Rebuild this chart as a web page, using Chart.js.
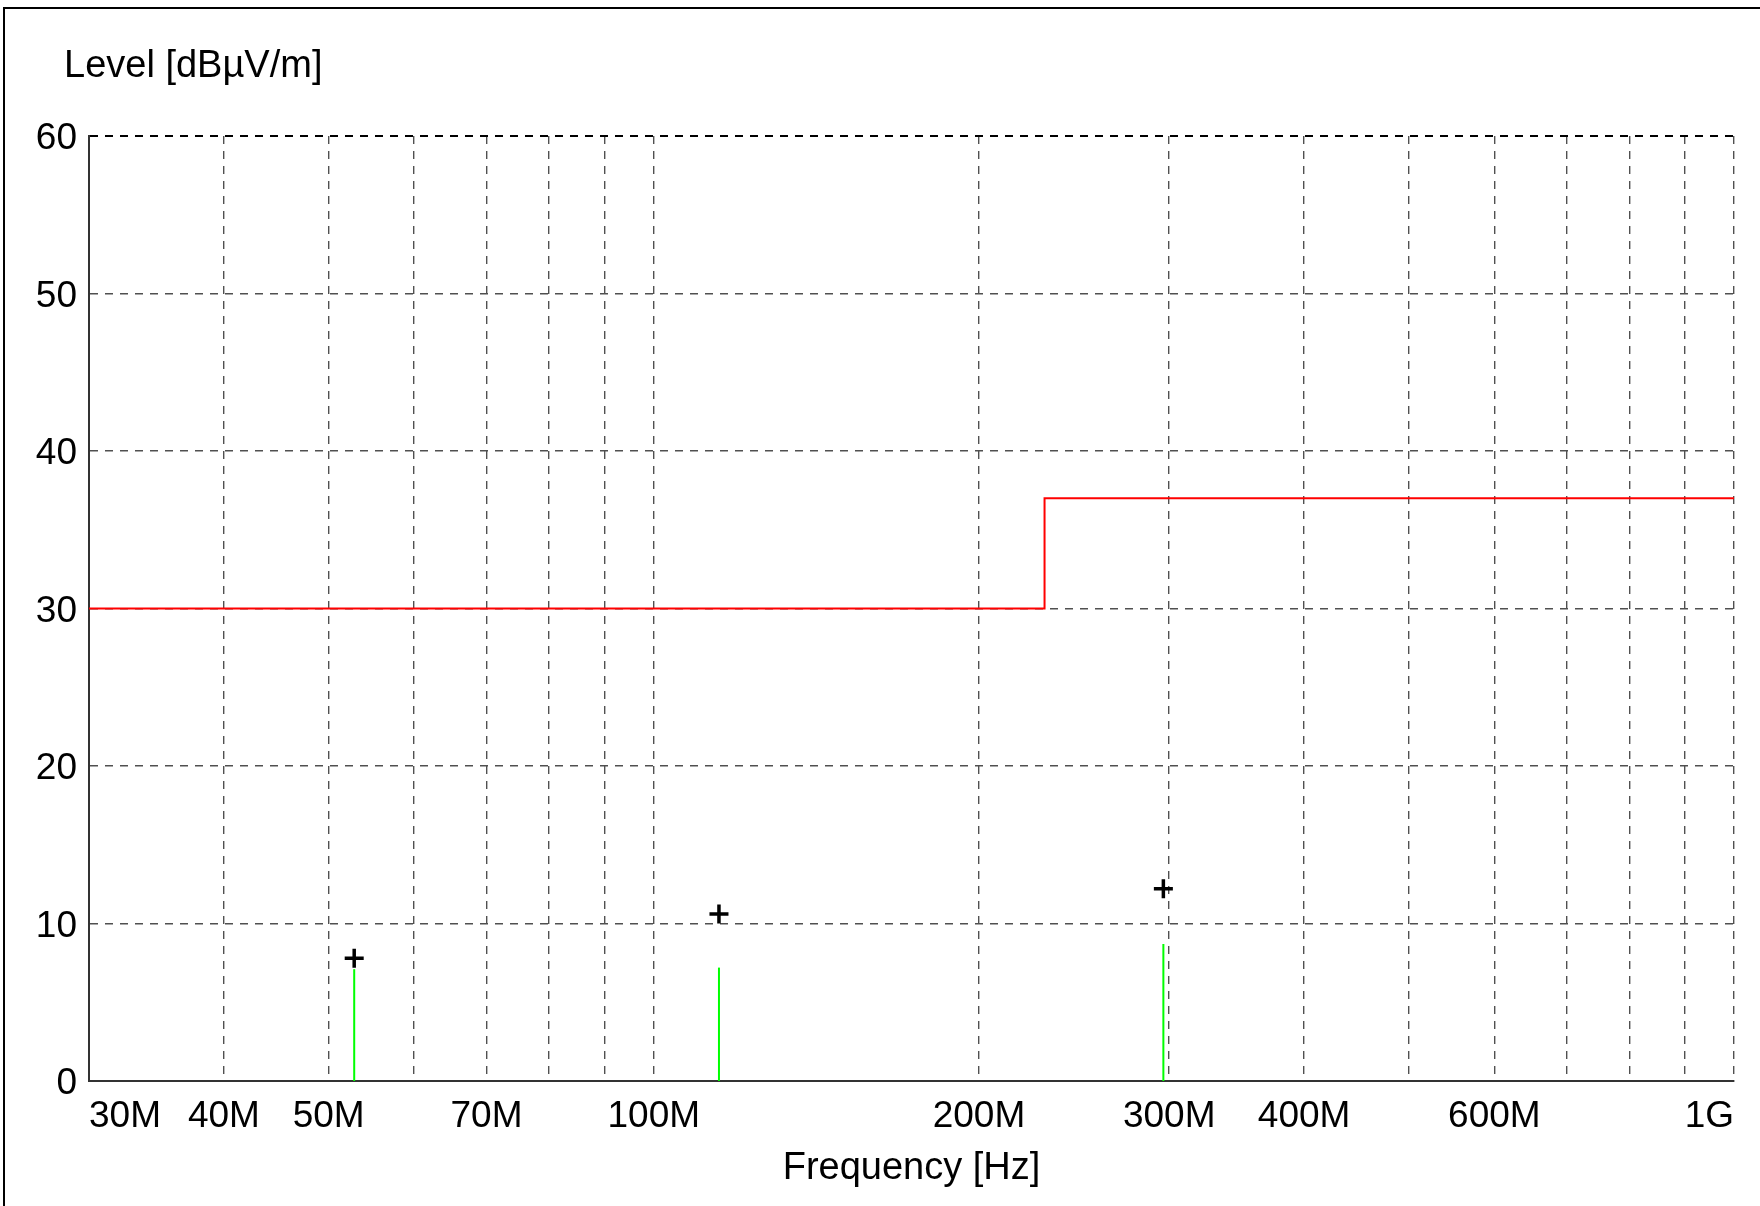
<!DOCTYPE html>
<html>
<head>
<meta charset="utf-8">
<script src="https://cdn.jsdelivr.net/npm/chart.js@4.4.1/dist/chart.umd.min.js"></script>
<style>
html,body{margin:0;padding:0;background:#fff;overflow:hidden;width:1760px;height:1206px}
canvas{position:absolute;left:0;top:0}
#frame{position:absolute;left:3px;top:7px;width:1800px;height:1300px;border-top:2px solid #000;border-left:2px solid #000;pointer-events:none}
</style>
</head>
<body>
<canvas id="c" width="1760" height="1206"></canvas>
<div id="frame"></div>
<script>
// ---- data (frequencies in MHz, levels in dBµV/m) ----
const xTickValues = [30, 40, 50, 60, 70, 80, 90, 100, 200, 300, 400, 500, 600, 700, 800, 900, 1000];
const xTickLabels = ['30M', '40M', '50M', '', '70M', '', '', '100M', '200M', '300M', '400M', '', '600M', '', '', '', '1G'];
const yTickValues = [0, 10, 20, 30, 40, 50, 60];
const limitFreqs = [30, 230, 230, 1000];
const limitLevels = [30, 30, 37, 37];
const peakFreqs = [52.8, 114.9, 296.3];
const peakLevels = [7.1, 7.2, 8.7];
const markerFreqs = [52.8, 114.9, 296.3];
const markerLevels = [7.8, 10.6, 12.2];
const xTitleText = 'Frequency [Hz]';
const yTitleText = 'Level [dBµV/m]';

const FONT = "'Liberation Sans', Arial, sans-serif";
Chart.defaults.font.family = FONT;
Chart.defaults.color = '#000';

const datasets = [];
datasets.push({
  label: 'Limit',
  data: limitFreqs.map((f, i) => ({x: f, y: limitLevels[i]})),
  showLine: true, borderColor: '#ff0000', borderWidth: 2, pointRadius: 0, fill: false, order: 3
});
peakFreqs.forEach((f, i) => datasets.push({
  label: 'Peak ' + (i + 1),
  data: [{x: f, y: 0}, {x: f, y: peakLevels[i]}],
  showLine: true, borderColor: '#00ff00', borderWidth: 2, pointRadius: 0, fill: false, order: 2
}));
datasets.push({
  label: 'QP',
  data: markerFreqs.map((f, i) => ({x: f, y: markerLevels[i]})),
  showLine: false, pointStyle: 'cross', pointRadius: 9.5, pointBorderWidth: 3.5,
  pointBorderColor: '#000', borderColor: '#000', backgroundColor: '#000', order: 1
});

const yTitlePlugin = {
  id: 'yTitle',
  afterDraw(chart) {
    const {ctx, chartArea} = chart;
    ctx.save();
    ctx.font = '38px ' + FONT;
    ctx.fillStyle = '#000';
    ctx.textAlign = 'left';
    ctx.textBaseline = 'alphabetic';
    ctx.fillText(yTitleText, chartArea.left - 25, chartArea.top - 59);
    ctx.restore();
  }
};

new Chart(document.getElementById('c'), {
  type: 'scatter',
  data: {datasets},
  plugins: [yTitlePlugin],
  options: {
    responsive: false,
    animation: false,
    devicePixelRatio: 1,
    layout: {padding: {left: 0, top: 136, right: 26, bottom: 0}},
    plugins: {legend: {display: false}, tooltip: {enabled: false}, title: {display: false}},
    scales: {
      x: {
        type: 'logarithmic', min: 30, max: 1000, bounds: 'data',
        afterBuildTicks: s => { s.ticks = xTickValues.map(v => ({value: v})); },
        afterFit: s => { s.height = 125; },
        ticks: {
          autoSkip: false, maxRotation: 0, minRotation: 0, align: 'inner', padding: 14,
          font: {size: 37}, color: '#000',
          callback: (v, i) => xTickLabels[i] ?? ''
        },
        grid: {drawTicks: false, color: '#505050', lineWidth: 1.4},
        border: {display: true, color: '#333', width: 2, dash: [8, 7]},
        title: {display: true, text: xTitleText, font: {size: 38}, color: '#000', padding: {top: 0, bottom: 15}}
      },
      y: {
        min: 0, max: 60,
        afterBuildTicks: s => { s.ticks = yTickValues.map(v => ({value: v})); },
        afterFit: s => { s.width = 89; },
        ticks: {padding: 12, labelOffset: 3, font: {size: 37}, color: '#000', callback: v => String(v)},
        grid: {
          drawTicks: false,
          color: c => (c.tick && c.tick.value === 60) ? '#000' : '#505050',
          lineWidth: c => (c.tick && c.tick.value === 60) ? 2 : 1.4
        },
        border: {display: true, color: '#333', width: 2, dash: [8, 7]}
      }
    }
  }
});
</script>
</body>
</html>
